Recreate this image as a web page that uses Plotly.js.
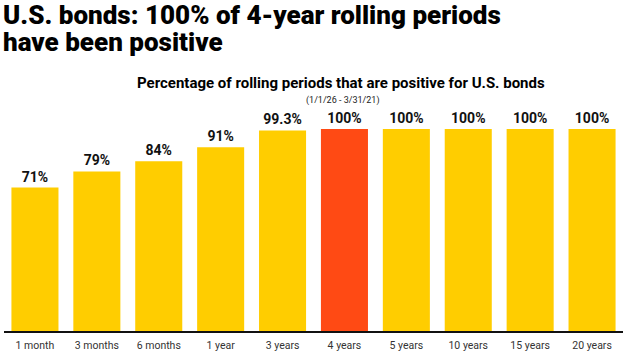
<!DOCTYPE html>
<html><head><meta charset="utf-8">
<script src="https://cdn.plot.ly/plotly-3.0.1.min.js"></script>
<style>html,body{margin:0;padding:0;background:#fff}#chart{width:624px;height:354px}</style>
</head><body><div id="chart"></div>
<script>
const periods = ["1 month","3 months","6 months","1 year","3 years","4 years","5 years","10 years","15 years","20 years"];
const pctPositive = [71, 79, 84, 91, 99.3, 100, 100, 100, 100, 100];
const valueLabels = ["71%","79%","84%","91%","99.3%","100%","100%","100%","100%","100%"];
const highlight = "4 years";
const titleLines = ["U.S. bonds: 100% of 4-year rolling periods", "have been positive"];
const subtitle = "Percentage of rolling periods that are positive for U.S. bonds";
const dateRange = "(1/1/26 - 3/31/21)";

const colors = periods.map(p => p === highlight ? "#FF4A14" : "#FFCD00");

const trace = {
  type: "bar",
  x: periods,
  y: pctPositive,
  text: valueLabels,
  textposition: "outside",
  textfont: {family: "Roboto, Arial, sans-serif", size: 14, color: "#111", weight: 700},
  cliponaxis: false,
  marker: {color: colors},
  hoverinfo: "skip"
};

const F = "Roboto, Arial, sans-serif";
const layout = {
  width: 624, height: 354,
  margin: {l: 4, r: 1, t: 129, b: 23},
  paper_bgcolor: "#fff", plot_bgcolor: "#fff",
  bargap: 0.24,
  showlegend: false,
  xaxis: {
    type: "category",
    showline: true, linecolor: "#111", linewidth: 1.5,
    ticks: "", showgrid: false,
    ticklabelstandoff: 4,
    tickfont: {family: F, size: 10.5, color: "#333"},
    fixedrange: true
  },
  yaxis: {
    range: [0, 100],
    visible: false, showgrid: false, zeroline: false,
    fixedrange: true
  },
  annotations: [
    {text: titleLines[0], xref: "paper", yref: "paper", x: -0.005, y: 1.564,
     xanchor: "left", yanchor: "middle", showarrow: false,
     font: {family: F, size: 26, color: "#000", weight: 900}},
    {text: titleLines[1], xref: "paper", yref: "paper", x: -0.005, y: 1.431,
     xanchor: "left", yanchor: "middle", showarrow: false,
     font: {family: F, size: 26, color: "#000", weight: 900}},
    {text: subtitle, xref: "paper", yref: "paper", x: 0.545, y: 1.228,
     xanchor: "center", yanchor: "middle", showarrow: false,
     font: {family: F, size: 15, color: "#000", weight: 700}},
    {text: dateRange, xref: "paper", yref: "paper", x: 0.548, y: 1.142,
     xanchor: "center", yanchor: "middle", showarrow: false,
     font: {family: F, size: 9, color: "#222"}}
  ]
};

Plotly.newPlot("chart", [trace], layout, {displayModeBar: false, staticPlot: true});
</script></body></html>
